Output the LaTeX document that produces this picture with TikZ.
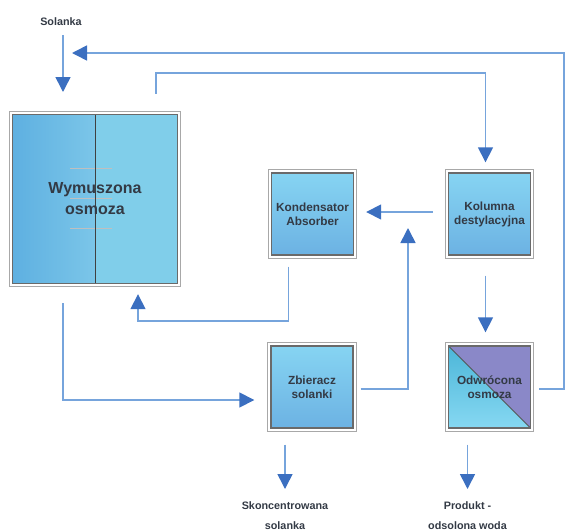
\documentclass[tikz,border=0pt]{standalone}
\usepackage{fontspec}
\setmainfont{Liberation Sans}
\usetikzlibrary{arrows.meta}
\definecolor{lineblue}{HTML}{76A4DC}
\definecolor{headblue}{HTML}{3B6FC0}
\definecolor{boxdark}{HTML}{6A6A6A}
\definecolor{boxlight}{HTML}{A8A8A8}
\definecolor{txt}{HTML}{333A45}
\definecolor{bt}{HTML}{86D4F2}
\definecolor{bb}{HTML}{6CB2E3}
\definecolor{bigLa}{HTML}{5EB0E1}
\definecolor{bigLb}{HTML}{98DBF0}
\definecolor{bigR}{HTML}{80CEEA}
\definecolor{purp}{HTML}{8A88C8}
\definecolor{cyt}{HTML}{4CB6D8}
\definecolor{cyb}{HTML}{86D8F2}
\begin{document}
\begin{tikzpicture}[x=1pt,y=1pt,
  flow/.style={draw=lineblue, line width=1.6pt, -{Triangle[length=15pt,width=15pt,color=headblue]}},
  box/.style={draw=boxdark, line width=1.4pt, minimum width=82pt, minimum height=82pt,
    inner sep=0pt, align=center, font=\fontsize{11.8}{14}\selectfont\bfseries, text=txt},
  bluebox/.style={box, top color=bt, bottom color=bb},
  frameout/.style={draw=boxlight, line width=0.9pt},
  faint/.style={draw=gray!50, line width=0.5pt},
  lbl/.style={font=\fontsize{10.8}{20}\selectfont\bfseries, text=txt, align=center, inner sep=1pt}
]
\useasboundingbox (0,0) rectangle (567,-530);

% boxes
\node[box, minimum width=165pt, minimum height=169pt, fill=bigR,
  font=\fontsize{16}{21}\selectfont\bfseries,
  path picture={
    \shade[left color=bigLa, right color=bigLb] (path picture bounding box.north west) rectangle (path picture bounding box.south);
    \draw[faint] ([xshift=-25pt,yshift=31pt]path picture bounding box.center) -- ++(42pt,0pt);
    \draw[faint] ([xshift=-25pt,yshift=1pt]path picture bounding box.center) -- ++(42pt,0pt);
    \draw[faint] ([xshift=-25pt,yshift=-29pt]path picture bounding box.center) -- ++(42pt,0pt);
    \draw[black!75, line width=1pt] (path picture bounding box.north) -- (path picture bounding box.south);
  }] (big) at (95,-199) {Wymuszona\\osmoza};
\node[bluebox] (kond) at (312.5,-214) {Kondensator\\Absorber};
\node[bluebox] (kol) at (489.5,-214) {Kolumna\\destylacyjna};
\node[bluebox] (zb) at (312,-387) {Zbieracz\\solanki};
\node[box, fill=purp,
  path picture={
    \shade[top color=cyt, bottom color=cyb] (path picture bounding box.north west) -- (path picture bounding box.south west) -- (path picture bounding box.south east) -- cycle;
    \draw[boxdark!80!black, line width=0.8pt] (path picture bounding box.north west) -- (path picture bounding box.south east);
  }] (odw) at (489.5,-387) {Odwrócona\\osmoza};

\foreach \n in {big,kond,kol,zb,odw}
  \draw[frameout] ([xshift=-2.5pt,yshift=2.5pt]\n.north west) rectangle ([xshift=2.5pt,yshift=-2.5pt]\n.south east);

% labels
\node[lbl] (sol) at (61,-22) {Solanka};
\node[lbl, anchor=north] (sk) at (285,-500) {Skoncentrowana\\solanka};
\node[lbl, anchor=north] (pr) at (467.5,-500) {Produkt -\\odsolona woda};

% free ends
\coordinate (solin) at (63,-92);
\coordinate (solret) at (72,-53);
\coordinate (kin) at (408,-228);

% connectors
\draw[flow] ([xshift=2pt,yshift=-8pt]sol.south) -- (solin);
\draw[flow] ([xshift=8pt,yshift=-2pt]odw.east) -- ++(25,0) |- (solret);
\draw[flow] ([xshift=61pt,yshift=20pt]big.north) -- ++(0,21) -| ([xshift=-4pt,yshift=10pt]kol.north);
\draw[flow] ([xshift=-15pt,yshift=2pt]kol.west) -- ([xshift=12pt,yshift=2pt]kond.east);
\draw[flow] ([xshift=7pt,yshift=-2pt]zb.east) -| (kin);
\draw[flow] ([xshift=-24pt,yshift=-11pt]kond.south) -- ++(0,-54) -| ([xshift=43pt,yshift=-10pt]big.south);
\draw[flow] ([xshift=-32pt,yshift=-19pt]big.south) |- ([xshift=-16pt,yshift=-13pt]zb.west);
\draw[flow] ([xshift=-4pt,yshift=-20pt]kol.south) -- ([xshift=-4pt,yshift=13pt]odw.north);
\draw[flow] ([xshift=-27pt,yshift=-16pt]zb.south) -- ([yshift=11pt]sk.north);
\draw[flow] ([xshift=-22pt,yshift=-16pt]odw.south) -- ([yshift=11pt]pr.north);
\end{tikzpicture}
\end{document}
